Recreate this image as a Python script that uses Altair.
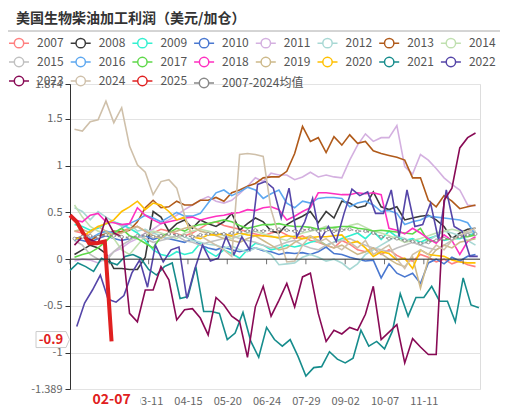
import altair as alt
import pandas as pd

FONT = "Noto Sans CJK SC"
TITLE = "美国生物柴油加工利润（美元/加仓）"

YEARS = ["2007", "2008", "2009", "2010", "2011", "2012", "2013", "2014",
         "2015", "2016", "2017", "2018", "2019", "2020", "2021", "2022",
         "2023", "2024", "2025"]
COLORS = ["#ff8080", "#3a3a3a", "#33f0d0", "#4a78d0", "#d4b0e0", "#a8d8d4",
          "#b05a1a", "#c0e0b0", "#c0c0c0", "#5ea8f0", "#5fd84a", "#ff30c0",
          "#cdb98a", "#ffc000", "#168c8c", "#5545a8", "#880a55", "#cfc0aa",
          "#e02020"]
MEAN_NAME = "2007-2024均值"
MEAN_COLOR = "#888888"

Y_TICKS = [-1.389, -1, -0.5, 0, 0.5, 1, 1.5, 1.874]
X_LABEL_DAYS = [70, 105, 140, 175, 210, 245, 280, 315]
X_TICK_DAYS = [0, 35, 70, 105, 140, 175, 210, 245, 280, 315, 350]
POINTER_DAY = 37
POINTER_DATE = "02-07"
POINTER_VALUE = -0.86
POINTER_TEXT = "-0.9"

START_DAY = {"2021": 0, "2022": 6}
DEFAULT_START = 4

Y2007 = [0.30, 0.28, 0.25, 0.22, 0.28, 0.26, 0.30, 0.33, 0.35, 0.30,
         0.28, 0.32, 0.30, 0.27, 0.25, 0.28, 0.33, 0.38, 0.40, 0.36,
         0.34, 0.32, 0.29, 0.27, 0.25, 0.28, 0.30, 0.26, 0.22, 0.25,
         0.20, 0.18, 0.15, 0.12, 0.20, 0.16, 0.10, 0.08, 0.12, 0.05,
         0.10, 0.04, 0.00, -0.02, 0.05, 0.02, -0.03, 0.00, -0.05, -0.02,
         -0.06, -0.08]
Y2008 = [0.05, 0.10, 0.15, 0.12, 0.06, -0.10, -0.10, -0.11, -0.11, 0.02,
         0.51, 0.45, 0.30, 0.38, 0.42, 0.33, 0.42, 0.38, 0.35, 0.40,
         0.49, 0.31, 0.38, 0.44, 0.40, 0.30, 0.28, 0.37, 0.42, 0.46,
         0.51, 0.39, 0.51, 0.44, 0.62, 0.60, 0.55, 0.57, 0.72, 0.56,
         0.53, 0.56, 0.42, 0.44, 0.46, 0.47, 0.42, 0.35, 0.22, 0.28,
         0.32, 0.33]
Y2009 = [0.37, 0.35, 0.31, 0.33, 0.38, 0.40, 0.37, 0.33, 0.28, 0.20,
         0.10, 0.05, 0.03, 0.08, 0.05, 0.07, 0.17, 0.08, 0.03, 0.10,
         0.06, 0.01, 0.10, 0.17, 0.15, 0.10, 0.12, 0.15, 0.13, 0.15,
         0.18, 0.20, 0.15, 0.18, 0.22, 0.25, 0.28, 0.22, 0.30, 0.21,
         0.30, 0.24, 0.20, 0.22, 0.18, 0.22, 0.25, 0.20, 0.22, 0.22,
         0.25, 0.28]
Y2010 = [0.22, 0.20, 0.18, 0.22, 0.25, 0.22, 0.20, 0.22, 0.24, 0.25,
         0.21, 0.24, 0.22, 0.20, 0.18, 0.22, 0.15, 0.12, 0.10, 0.13,
         0.10, 0.08, 0.10, 0.12, 0.09, 0.08, 0.05, 0.07, 0.06, 0.07,
         0.05, 0.08, 0.13, 0.06, 0.05, 0.02, 0.00, -0.02, -0.01, -0.20,
         -0.05, -0.15, -0.19, -0.15, -0.26, -0.04, 0.00, -0.05, 0.02, -0.02,
         0.03, 0.05]
Y2011 = [-0.02, 0.00, -0.01, -0.04, 0.01, 0.08, 0.12, 0.18, 0.22, 0.28,
         0.32, 0.38, 0.42, 0.47, 0.53, 0.58, 0.63, 0.67, 0.62, 0.60,
         0.63, 0.70, 0.78, 0.87, 0.83, 0.92, 0.90, 0.90, 0.85, 0.88,
         0.93, 0.88, 0.90, 0.88, 0.87, 1.06, 1.22, 1.34, 1.26, 1.30,
         1.30, 1.43, 0.99, 0.91, 1.12, 1.06, 0.97, 0.87, 0.80, 0.74,
         0.58, 0.57]
Y2012 = [0.55, 0.51, 0.42, 0.51, 0.45, 0.40, 0.35, 0.38, 0.30, 0.32,
         0.28, 0.25, 0.22, 0.26, 0.24, 0.20, 0.18, 0.16, 0.15, 0.12,
         0.14, 0.10, 0.08, 0.12, 0.10, 0.05, -0.06, -0.05, -0.04, 0.02,
         0.05, 0.02, -0.02, 0.00, -0.04, -0.11, -0.05, 0.05, 0.10, 0.15,
         0.20, 0.25, 0.22, 0.18, 0.15, 0.20, 0.25, 0.30, 0.28, 0.25,
         0.20, 0.15]
Y2013 = [0.22, 0.24, 0.20, 0.25, 0.27, 0.30, 0.29, 0.31, 0.40, 0.55,
         0.63, 0.55, 0.56, 0.62, 0.58, 0.58, 0.63, 0.63, 0.66, 0.62,
         0.71, 0.74, 0.78, 0.81, 0.87, 0.88, 0.88, 0.94, 1.13, 1.42,
         1.26, 1.30, 1.14, 1.31, 1.22, 1.33, 1.24, 1.26, 1.16, 1.13,
         1.11, 1.09, 1.06, 0.87, 0.87, 0.63, 0.56, 0.68, 0.62, 0.54,
         0.56, 0.58]
Y2014 = [0.58, 0.45, 0.35, 0.30, 0.28, 0.22, 0.10, 0.05, 0.15, 0.25,
         0.30, 0.28, 0.25, 0.22, 0.28, 0.30, 0.32, 0.30, 0.28, 0.25,
         0.22, 0.25, 0.28, 0.30, 0.27, 0.25, 0.22, 0.20, 0.25, 0.28,
         0.30, 0.32, 0.35, 0.33, 0.30, 0.36, 0.38, 0.34, 0.30, 0.28,
         0.25, 0.22, 0.18, 0.20, 0.22, 0.25, 0.28, 0.30, 0.32, 0.30,
         0.28, 0.30]
Y2015 = [0.20, 0.15, 0.05, 0.00, -0.02, 0.08, 0.15, 0.20, 0.25, 0.22,
         0.18, 0.20, 0.22, 0.25, 0.20, 0.18, 0.15, 0.18, 0.20, 0.22,
         0.25, 0.22, 0.20, 0.18, 0.15, 0.12, 0.15, 0.18, 0.20, 0.15,
         0.12, 0.10, 0.15, 0.18, 0.20, 0.22, 0.18, 0.15, 0.12, 0.10,
         0.08, 0.12, 0.15, 0.18, 0.15, 0.12, 0.10, 0.15, 0.20, 0.25,
         0.28, 0.30]
Y2016 = [0.20, 0.25, 0.22, 0.27, 0.30, 0.28, 0.33, 0.38, 0.42, 0.47,
         0.44, 0.40, 0.45, 0.50, 0.46, 0.46, 0.49, 0.60, 0.71, 0.74,
         0.68, 0.72, 0.77, 0.74, 0.65, 0.70, 0.74, 0.60, 0.55, 0.62,
         0.60, 0.65, 0.66, 0.66, 0.65, 0.56, 0.60, 0.62, 0.58, 0.51,
         0.52, 0.49, 0.37, 0.40, 0.42, 0.46, 0.45, 0.44, 0.43, 0.42,
         0.39, 0.26]
Y2017 = [0.02, 0.05, 0.07, 0.12, 0.19, 0.28, 0.33, 0.25, 0.22, 0.17,
         0.12, 0.24, 0.28, 0.33, 0.30, 0.35, 0.37, 0.38, 0.40, 0.42,
         0.40, 0.36, 0.33, 0.35, 0.37, 0.37, 0.38, 0.36, 0.35, 0.35,
         0.34, 0.32, 0.33, 0.34, 0.35, 0.35, 0.33, 0.32, 0.30, 0.31,
         0.30, 0.29, 0.28, 0.27, 0.33, 0.19, 0.20, 0.22, 0.21, 0.24,
         0.24, 0.26]
Y2018 = [0.42, 0.40, 0.47, 0.49, 0.40, 0.39, 0.37, 0.38, 0.55, 0.47,
         0.42, 0.38, 0.40, 0.42, 0.44, 0.45, 0.42, 0.44, 0.46, 0.47,
         0.49, 0.50, 0.53, 0.52, 0.55, 0.56, 0.53, 0.42, 0.46, 0.51,
         0.55, 0.71, 0.71, 0.70, 0.69, 0.69, 0.71, 0.70, 0.71, 0.69,
         0.33, 0.31, 0.27, 0.33, 0.28, 0.22, 0.17, 0.26, 0.20, 0.05,
         0.19, 0.24]
Y2019 = [0.30, 0.32, 0.28, 0.35, 0.30, 0.25, 0.28, 0.32, 0.35, 0.30,
         0.25, 0.22, 0.28, 0.30, 0.33, 0.35, 0.30, 0.28, 0.25, 0.22,
         0.20, 0.18, 0.22, 0.25, 0.20, 0.15, 0.10, 0.12, 0.18, 0.22,
         0.25, 0.20, 0.15, 0.12, 0.15, 0.10, 0.05, 0.08, 0.12, 0.06,
         0.00, -0.05, -0.08, 0.02, -0.31, 0.00, 0.10, 0.15, 0.12, 0.18,
         0.20, 0.22]
Y2020 = [0.21, 0.24, 0.30, 0.35, 0.38, 0.42, 0.51, 0.56, 0.62, 0.53,
         0.60, 0.58, 0.51, 0.42, 0.45, 0.24, 0.22, 0.26, 0.26, 0.27,
         0.25, 0.28, 0.26, 0.25, 0.25, 0.24, 0.23, 0.25, 0.24, 0.22,
         0.23, 0.24, 0.24, 0.25, 0.26, 0.17, 0.19, 0.12, 0.03, 0.08,
         0.06, -0.01, 0.01, -0.10, 0.10, 0.05, 0.04, 0.03, -0.01, -0.03,
         -0.04, -0.04]
Y2021 = [-0.12, -0.04, -0.08, -0.13, 0.01, -0.03, -0.06, 0.03, 0.05, 0.01,
         -0.11, -0.17, -0.08, -0.04, -0.42, -0.40, -0.08, -0.56, -0.56, -0.58,
         -0.86, -0.79, -0.57, -0.88, -1.05, -0.73, -0.86, -0.93, -0.86, -1.04,
         -1.25, -1.16, -1.15, -0.99, -1.07, -1.11, -1.06, -0.76, -0.93, -0.88,
         -0.96, -0.77, -0.37, -0.61, -0.41, -0.41, -0.29, -0.45, -0.45, -0.67,
         -0.20, -0.49, -0.52]
Y2022 = [-0.72, -0.47, -0.33, -0.17, -0.43, -0.46, -0.39, -0.15, -0.01, -0.30,
         0.15, -0.03, 0.10, 0.13, -0.42, -0.11, 0.15, -0.02, 0.01, 0.24,
         0.05, 0.24, 0.10, 0.80, 0.83, 0.76, 0.44, 0.76, 0.24, 0.40,
         0.65, 0.21, 0.35, 0.19, 0.49, 0.75, 0.68, 0.72, 0.49, 0.49,
         0.74, 0.24, 0.74, 0.35, 0.37, 0.60, 0.21, 0.74, 0.35, 0.30,
         0.03, 0.03]
Y2023 = [0.15, 0.24, 0.21, 0.17, 0.44, 0.28, 0.24, -0.58, -0.67, -0.33,
         -0.33, -0.08, -0.22, -0.65, -0.54, -0.53, -0.63, -0.81, -0.41, -0.49,
         -0.61, -0.67, -1.05, -0.51, -0.29, -0.61, -0.44, -0.26, -0.51, -0.19,
         -0.15, -0.58, -0.88, -0.76, -0.80, -0.73, -0.76, -0.59, -0.29, -0.86,
         -0.78, -0.70, -1.11, -0.85, -0.94, -1.02, -1.02, 0.63, 0.76, 1.19,
         1.30, 1.35]
Y2024 = [1.39, 1.37, 1.47, 1.49, 1.69, 1.46, 1.62, 1.21, 1.01, 0.93,
         0.69, 0.83, 0.85, 0.76, 0.47, 0.23, 0.25, 0.20, 0.15, 0.10,
         0.03, 1.12, 1.13, 1.12, 1.10, 0.53, 0.25, -0.03, -0.02, 0.15,
         0.25, 0.18, 0.22, 0.15, 0.10, 0.18, 0.12, 0.20, 0.05, 0.10,
         0.15, 0.00, -0.10, 0.05, 0.10, 0.05, 0.15, 0.10, 0.20, 0.25,
         0.30, 0.33]
Y_MEAN = [0.22, 0.24, 0.25, 0.24, 0.26, 0.25, 0.24, 0.23, 0.25, 0.26,
          0.24, 0.25, 0.27, 0.26, 0.25, 0.24, 0.26, 0.27, 0.28, 0.27,
          0.28, 0.29, 0.30, 0.31, 0.30, 0.31, 0.32, 0.31, 0.30, 0.31,
          0.32, 0.30, 0.31, 0.30, 0.31, 0.32, 0.30, 0.30, 0.28, 0.24,
          0.22, 0.22, 0.20, 0.19, 0.17, 0.18, 0.20, 0.22, 0.22, 0.24,
          0.26, 0.27]
DAYS_2025 = [0, 6, 13, 17, 24, 31, 37]
Y2025 = [0.47, 0.40, 0.25, 0.17, 0.17, 0.19, -0.88]

WEEKLY = {
    "2007": Y2007, "2008": Y2008, "2009": Y2009, "2010": Y2010,
    "2011": Y2011, "2012": Y2012, "2013": Y2013, "2014": Y2014,
    "2015": Y2015, "2016": Y2016, "2017": Y2017, "2018": Y2018,
    "2019": Y2019, "2020": Y2020, "2021": Y2021, "2022": Y2022,
    "2023": Y2023, "2024": Y2024,
}

rows = []
for name, vals in WEEKLY.items():
    start = START_DAY.get(name, DEFAULT_START)
    for i, v in enumerate(vals):
        rows.append({"series": name, "day": start + 7 * i, "value": v})
for d, v in zip(DAYS_2025, Y2025):
    rows.append({"series": "2025", "day": d, "value": v})
df = pd.DataFrame(rows)

mean_df = pd.DataFrame({"avg": MEAN_NAME,
                        "day": [DEFAULT_START + 7 * i for i in range(len(Y_MEAN))],
                        "value": Y_MEAN})

ICON = "M-1,0L-0.47,0M0.47,0L1,0M0.47,0A0.47,0.47,0,1,1,-0.47,0A0.47,0.47,0,1,1,0.47,0"
BOX = "M-2.9,-1L2.9,-1L2.9,1L-2.9,1Z"
ARROW = "M-1.6,-0.8L1.4,-0.8L1.75,0L1.4,0.8L-1.6,0.8Z"

x_scale = alt.Scale(domain=[0, 365], nice=False, zero=False)
y_scale = alt.Scale(domain=[-1.389, 1.874], nice=False, zero=False)

x_axis = alt.Axis(values=X_LABEL_DAYS,
                  labelExpr="timeFormat(datetime(2024, 0, 1 + datum.value), '%m-%d')",
                  domain=False, ticks=False, grid=False, labelColor="#666",
                  labelFontSize=11, labelPadding=6, title=None, labelFont=FONT,
                  zindex=0)
y_axis = alt.Axis(values=Y_TICKS, labelExpr="'' + datum.value", grid=True,
                  gridColor="#e3e3e3", domainColor="#333", tickColor="#333",
                  tickSize=5, labelColor="#666", labelFontSize=11, labelPadding=3,
                  title=None, labelFont=FONT)

LEGEND_COMMON = dict(title=None, orient="none", direction="horizontal",
                     symbolType=ICON, symbolSize=400, symbolStrokeWidth=1.5,
                     symbolFillColor="white", labelFontSize=12, labelColor="#555",
                     labelFont=FONT, labelOffset=7, columnPadding=3.7, rowPadding=0,
                     padding=0)

legend_years = alt.Legend(legendX=-62, legendY=-52, columns=8, **LEGEND_COMMON)
legend_mean = alt.Legend(legendX=123, legendY=-12, symbolStrokeColor=MEAN_COLOR,
                         **LEGEND_COMMON)

lines = alt.Chart(df).mark_line(interpolate="linear").encode(
    x=alt.X("day:Q", scale=x_scale, axis=x_axis),
    y=alt.Y("value:Q", scale=y_scale, axis=y_axis),
    color=alt.Color("series:N", scale=alt.Scale(domain=YEARS, range=COLORS),
                    legend=legend_years),
    strokeWidth=alt.condition("datum.series == '2025'", alt.value(4), alt.value(1.6)),
    detail="series:N",
)

mean_line = alt.Chart(mean_df).mark_line(color=MEAN_COLOR, strokeWidth=1.4,
                                         strokeDash=[2, 2]).encode(
    x="day:Q", y="value:Q",
    opacity=alt.Opacity("avg:N", scale=alt.Scale(domain=[MEAN_NAME], range=[1]),
                        legend=legend_mean),
)
mean_pts = alt.Chart(mean_df).mark_point(filled=True, fill="white", stroke=MEAN_COLOR,
                                         strokeWidth=0.8, size=9, opacity=1).encode(
    x="day:Q", y="value:Q")

zero_line = alt.Chart(pd.DataFrame({"value": [0]})).mark_rule(
    color="#333", strokeWidth=1).encode(y="value:Q")

zero_ticks = alt.Chart(pd.DataFrame({"day": X_TICK_DAYS})).mark_tick(
    orient="vertical", size=5, thickness=1, color="#333", yOffset=2.5).encode(
    x="day:Q", y=alt.datum(0))

ptr_df = pd.DataFrame({"day": [POINTER_DAY], "label": [POINTER_DATE],
                       "value": [POINTER_VALUE], "vtext": [POINTER_TEXT]})
ptr_box = alt.Chart(ptr_df).mark_point(shape=BOX, size=400, filled=True,
                                       color="white", opacity=1).encode(
    x="day:Q", y=alt.value(316))
ptr_text = alt.Chart(ptr_df).mark_text(color="#e02020", fontSize=14, fontWeight="bold",
                                       baseline="middle", font=FONT).encode(
    x="day:Q", y=alt.value(316), text="label:N")
vbox = alt.Chart(ptr_df).mark_point(shape=ARROW, size=400, filled=True, fill="white",
                                    stroke="#cccccc", strokeWidth=1, opacity=1).encode(
    x=alt.value(-18), y="value:Q")
vtext = alt.Chart(ptr_df).mark_text(color="#e02020", fontSize=13, fontWeight="bold",
                                    baseline="middle", font=FONT).encode(
    x=alt.value(-19), y="value:Q", text="vtext:N")

title = alt.Chart(pd.DataFrame({"t": [TITLE]})).mark_text(
    align="left", baseline="middle", fontSize=14, fontWeight="bold",
    color="#333", font=FONT).encode(x=alt.value(-54), y=alt.value(-65), text="t:N")
sep = alt.Chart(pd.DataFrame({"a": [0]})).mark_rule(color="#aaaaaa", strokeWidth=1).encode(
    x=alt.value(-62), x2=alt.value(430), y=alt.value(-53))

chart = alt.layer(lines, mean_line, mean_pts, zero_line, zero_ticks, ptr_box, ptr_text,
                  vbox, vtext, title, sep).properties(
    width=410, height=305, autosize=alt.AutoSizeParams(type="none"),
    padding={"left": 62, "top": 76, "right": 22, "bottom": 22},
    background="white",
).configure_view(stroke=None).configure(font=FONT)

chart.save("out.html", embed_options={"renderer": "svg", "actions": False})
